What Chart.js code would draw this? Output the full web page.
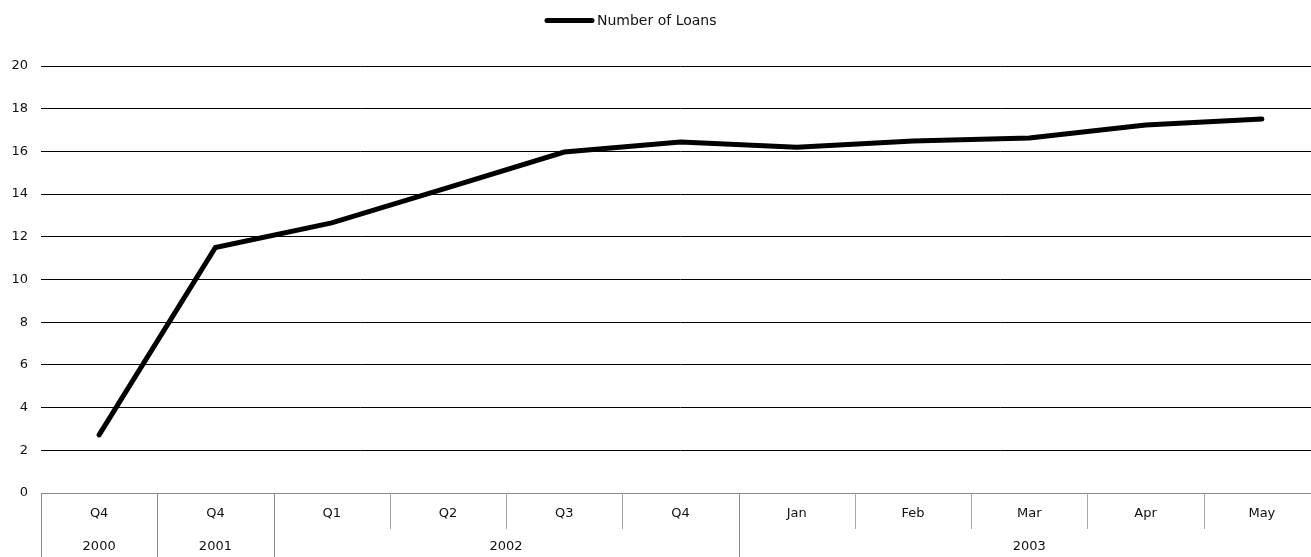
<!DOCTYPE html>
<html>
<head>
<meta charset="utf-8">
<script src="https://cdn.jsdelivr.net/npm/chart.js@4"></script>
<style>
  html, body { margin: 0; padding: 0; background: #fff; overflow: hidden; }
  #wrap { width: 1322px; height: 557px; position: relative; }
</style>
</head>
<body>
<div id="wrap"><canvas id="c"></canvas></div>
<script>
const periodLabels = ['Q4', 'Q4', 'Q1', 'Q2', 'Q3', 'Q4', 'Jan', 'Feb', 'Mar', 'Apr', 'May'];
const yearLabels = ['2000', '2001', '2002', '2003'];
const yearSpans = [1, 1, 4, 5];
const seriesName = 'Number of Loans';
const loanValues = [2.72, 11.5, 12.65, 14.3, 15.97, 16.44, 16.2, 16.49, 16.63, 17.24, 17.52];
const yTicks = [0, 2, 4, 6, 8, 10, 12, 14, 16, 18, 20];

const FONT = "'DejaVu Sans', sans-serif";

const categoryAxisPlugin = {
  id: 'categoryAxis',
  afterDraw(chart) {
    const ctx = chart.ctx;
    const x = chart.scales.x;
    const area = chart.chartArea;
    const top = area.bottom;
    const rowMid = top + 36;
    const H = chart.height;
    const n = periodLabels.length;
    const groupBounds = new Set([0]);
    let acc = 0;
    yearSpans.forEach(s => { acc += s; groupBounds.add(acc); });
    ctx.save();
    for (let i = 0; i <= n; i++) {
      const px = Math.round(x.getPixelForValue(i - 0.5)) + 0.5;
      const full = groupBounds.has(i);
      ctx.strokeStyle = full ? '#8a8a8a' : '#a8a8a8';
      ctx.lineWidth = 1;
      ctx.beginPath();
      ctx.moveTo(px, top);
      ctx.lineTo(px, full ? H : rowMid);
      ctx.stroke();
    }
    ctx.fillStyle = '#111';
    ctx.font = '13px ' + FONT;
    ctx.textAlign = 'center';
    ctx.textBaseline = 'middle';
    periodLabels.forEach((lab, i) => {
      ctx.fillText(lab, x.getPixelForValue(i), top + 21);
    });
    let start = 0;
    yearLabels.forEach((lab, g) => {
      const end = start + yearSpans[g];
      const l = x.getPixelForValue(start - 0.5);
      const r = x.getPixelForValue(end - 0.5);
      ctx.fillText(lab, (l + r) / 2, top + 54);
      start = end;
    });
    ctx.restore();
  }
};

const legendPlugin = {
  id: 'customLegend',
  afterDraw(chart) {
    const ctx = chart.ctx;
    const ds = chart.data.datasets[0];
    ctx.save();
    ctx.strokeStyle = ds.borderColor;
    ctx.lineWidth = 5;
    ctx.lineCap = 'round';
    ctx.beginPath();
    ctx.moveTo(547, 20.5);
    ctx.lineTo(592, 20.5);
    ctx.stroke();
    ctx.fillStyle = '#111';
    ctx.font = '14px ' + FONT;
    ctx.textAlign = 'left';
    ctx.textBaseline = 'middle';
    ctx.fillText(ds.label, 597, 21.5);
    ctx.restore();
  }
};

new Chart(document.getElementById('c'), {
  type: 'line',
  data: {
    labels: periodLabels,
    datasets: [{
      label: seriesName,
      data: loanValues,
      borderColor: '#000',
      backgroundColor: '#000',
      borderWidth: 5,
      pointRadius: 0,
      tension: 0,
      borderCapStyle: 'round',
      borderJoinStyle: 'miter'
    }]
  },
  options: {
    responsive: true,
    maintainAspectRatio: false,
    animation: false,
    devicePixelRatio: 1,
    layout: { padding: { top: 66, left: 0, right: 2, bottom: 0 } },
    plugins: {
      legend: { display: false },
      tooltip: { enabled: false }
    },
    scales: {
      x: {
        type: 'category',
        offset: true,
        grid: { display: false, drawTicks: false },
        border: { display: true, color: '#888', width: 1 },
        ticks: { display: false },
        afterFit(scale) { scale.height = 64; }
      },
      y: {
        min: 0,
        max: 20,
        afterBuildTicks(scale) { scale.ticks = yTicks.map(v => ({ value: v })); },
        grid: {
          color: (c) => c.tick && c.tick.value === 0 ? 'rgba(0,0,0,0)' : '#000',
          lineWidth: 1,
          drawTicks: false
        },
        border: { display: false },
        ticks: {
          padding: 13,
          color: '#111',
          font: { family: FONT, size: 13 }
        },
        afterFit(scale) { scale.width = 41; }
      }
    }
  },
  plugins: [categoryAxisPlugin, legendPlugin]
});
</script>
</body>
</html>
